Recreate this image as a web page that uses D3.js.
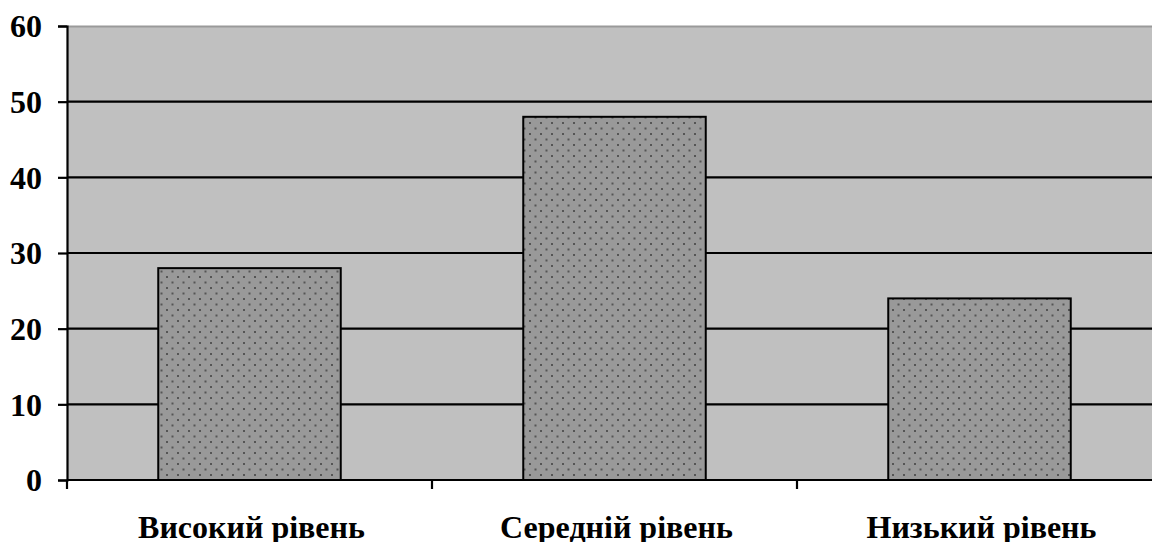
<!DOCTYPE html>
<html><head><meta charset="utf-8">
<script src="https://cdn.jsdelivr.net/npm/d3@7"></script>
<style>body{margin:0;background:#fff}svg{display:block}</style>
</head><body>
<svg id="c" width="1152" height="542"></svg>
<script>
const categories = ["Високий рівень", "Середній рівень", "Низький рівень"];
const values = [28, 48, 24];
const yTicks = [0, 10, 20, 30, 40, 50, 60];

(function () {
const svg = d3.select("#c");
const mLeft = 67, mTop = 26, mBottom = 480, mRight = 1162;
const x = d3.scaleBand().domain(categories).range([mLeft, mRight]).paddingInner(0).paddingOuter(0);
const y = d3.scaleLinear().domain([0, 60]).range([mBottom, mTop]);

const defs = svg.append("defs");
const pat = defs.append("pattern").attr("id", "dots").attr("patternUnits", "userSpaceOnUse")
  .attr("width", 11).attr("height", 11);
pat.append("rect").attr("width", 11).attr("height", 11).attr("fill", "#999999");
[[2,2],[7.5,7.5]].forEach(([cx,cy]) => {
  pat.append("rect").attr("x", cx-1).attr("y", cy-1).attr("width", 2).attr("height", 2).attr("fill", "#555");
});

svg.append("rect").attr("x", mLeft).attr("y", mTop).attr("width", 1152 - mLeft).attr("height", mBottom - mTop).attr("fill", "#c0c0c0");
svg.append("line").attr("x1", mLeft).attr("x2", 1152).attr("y1", mTop + 0.5).attr("y2", mTop + 0.5).attr("stroke", "#9a9a9a").attr("stroke-width", 2);

svg.append("g").selectAll("line").data(yTicks.filter(d => d > 0 && d < 60)).join("line")
  .attr("x1", mLeft).attr("x2", 1152).attr("y1", d => y(d)).attr("y2", d => y(d))
  .attr("stroke", "#000").attr("stroke-width", 2.2);

svg.append("g").selectAll("rect").data(values).join("rect")
  .attr("x", (d, i) => x(categories[i]) + x.bandwidth() * 0.25)
  .attr("width", x.bandwidth() * 0.5)
  .attr("y", d => y(d))
  .attr("height", d => mBottom - y(d))
  .attr("fill", "url(#dots)").attr("stroke", "#000").attr("stroke-width", 2);

const yAxis = d3.axisLeft(y).tickValues(yTicks).tickSize(9).tickPadding(16).tickFormat(d3.format("d"));
const gy = svg.append("g").attr("transform", `translate(${mLeft},0)`).call(yAxis);
gy.attr("font-size", null).attr("font-family", null);
gy.select(".domain").attr("stroke-width", 2.2);
gy.selectAll(".tick line").attr("stroke-width", 2.2);
gy.selectAll("text").style("font-family", "'Liberation Serif', serif").style("font-weight", "bold")
  .style("font-size", "32px").attr("fill", "#000").attr("dy", "0.34em");

const xTickPos = d3.range(categories.length).map(i => mLeft + i * x.bandwidth());
const gx = svg.append("g");
gx.append("line").attr("x1", mLeft).attr("x2", 1152).attr("y1", mBottom).attr("y2", mBottom).attr("stroke", "#000").attr("stroke-width", 2.2);
gx.selectAll("line.t").data(xTickPos).join("line").attr("class", "t")
  .attr("x1", d => d).attr("x2", d => d).attr("y1", mBottom).attr("y2", mBottom + 9)
  .attr("stroke", "#000").attr("stroke-width", 2.2);
gx.selectAll("text").data(categories).join("text")
  .attr("x", d => x(d) + x.bandwidth() / 2 + 2)
  .attr("y", 538)
  .attr("text-anchor", "middle")
  .style("font-family", "'Liberation Serif', serif").style("font-weight", "bold").style("font-size", "32px")
  .text(d => d);
})();
</script>
</body></html>
